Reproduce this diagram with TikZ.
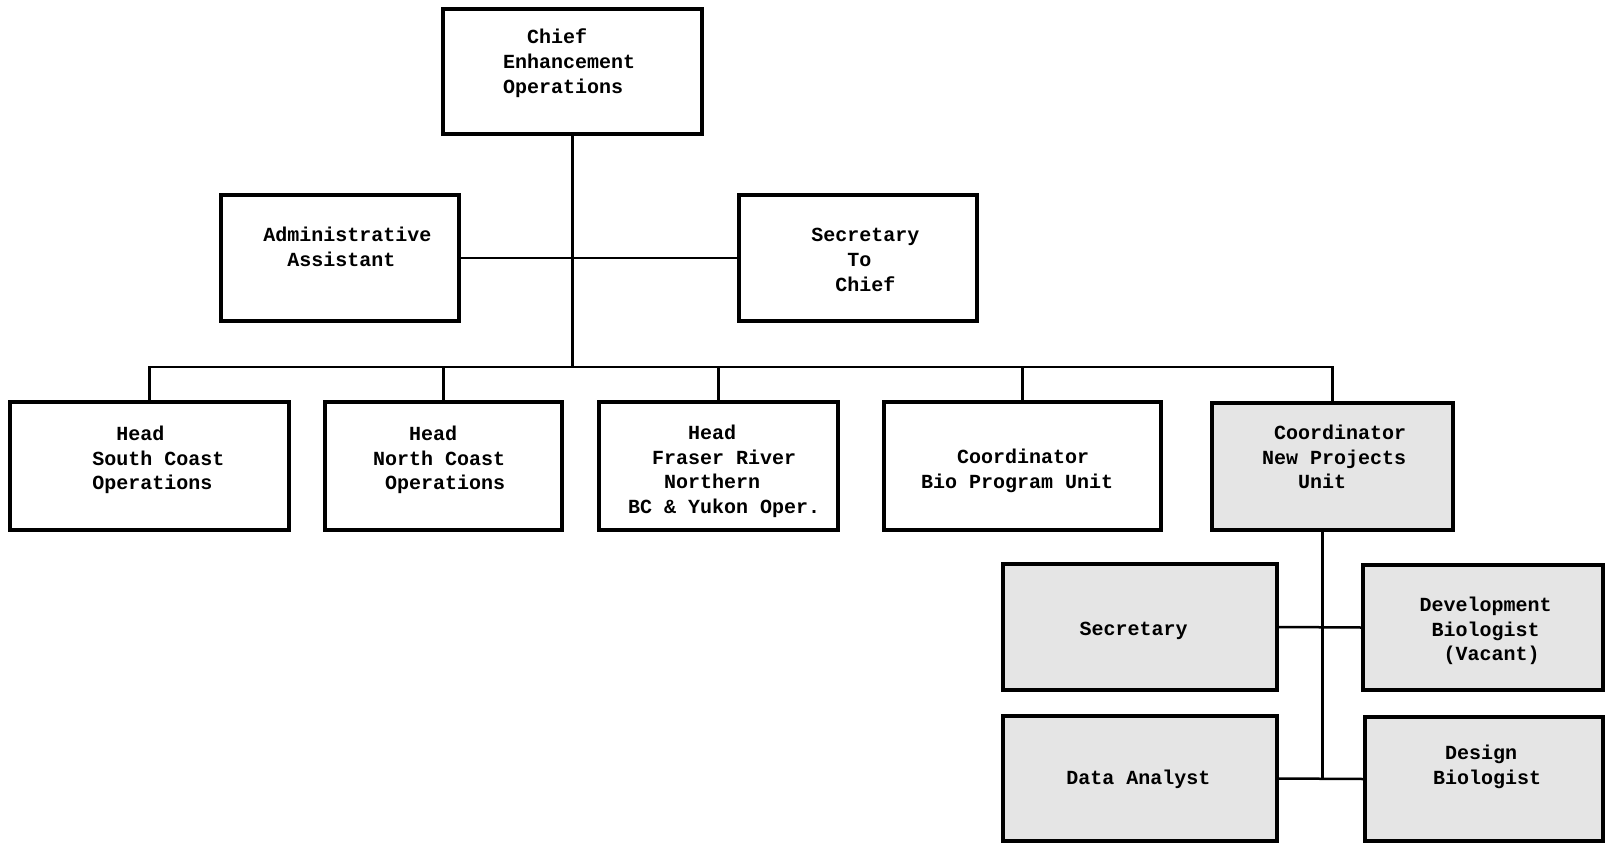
\documentclass[tikz,border=0pt]{standalone}
\usepackage{fontspec}
\newfontfamily\tw{Liberation Mono}[WordSpace={1,0,0}]
\begin{document}
\begin{tikzpicture}[x=1pt,y=-1pt,
  box/.style={draw,line width=3.5pt,minimum width=#1,minimum height=126pt,inner sep=0pt},
  shbox/.style={box=#1,fill=black!10},
  txt/.style={anchor=base west,align=left,inner sep=0pt,font=\tw\bfseries\fontsize{20pt}{24.8pt}\selectfont},
  conn/.style={line width=2.5pt}]
\useasboundingbox (0,0) rectangle (1606,843);
\begin{scope}
\clip (0,0) rectangle (1606,843);
% boxes
\node[box=259pt,minimum height=125pt] (chief) at (572.5,71.5) {};
\node[box=238pt] (admin) at (340,258) {};
\node[box=238pt] (sec) at (858,258) {};
\node[box=279pt,minimum height=128pt] (south) at (149.5,466) {};
\node[box=237pt,minimum height=128pt] (north) at (443.5,466) {};
\node[box=239pt,minimum height=128pt] (fraser) at (718.5,466) {};
\node[box=277pt,minimum height=128pt] (bio) at (1022.5,466) {};
\node[shbox=241pt,minimum height=127pt] (newp) at (1332.5,466.5) {};
\node[shbox=274pt] (secr) at (1140,627) {};
\node[shbox=240pt,minimum height=125pt] (dev) at (1483,627.5) {};
\node[shbox=274pt,minimum height=125pt] (data) at (1140,778.5) {};
\node[shbox=238pt,minimum height=124pt] (design) at (1484,779) {};
% texts (anchor = baseline of last line)
\node[txt] (chief-t) at (502.9,93.5) {\phantom{xx}Chief\\Enhancement\\Operations};
\node[txt] (admin-t) at (263.2,266.3) {Administrative\\\phantom{xx}Assistant};
\node[txt] (sec-t) at (811.2,291.1) {Secretary\\\phantom{xxx}To\\\phantom{xx}Chief};
\node[txt] (south-t) at (92.2,489.8) {\phantom{xx}Head\\South Coast\\Operations};
\node[txt] (north-t) at (372.8,489.8) {\phantom{xxx}Head\\North Coast\\\phantom{x}Operations};
\node[txt] (fraser-t) at (627.8,513.6) {\phantom{xxxxx}Head\\\phantom{xx}Fraser River\\\phantom{xxx}Northern\\BC \& Yukon Oper.};
\node[txt] (bio-t) at (920.8,488.6) {\phantom{xxx}Coordinator\\Bio Program Unit};
\node[txt] (newp-t) at (1261.8,488.8) {\phantom{x}Coordinator\\New Projects\\\phantom{xxx}Unit};
\node[txt] (secr-t) at (1079.5,635.9) {Secretary};
\node[txt] (dev-t) at (1419.5,660.9) {Development\\\phantom{x}Biologist\\\phantom{xx}(Vacant)};
\node[txt] (data-t) at (1066.2,784.4) {Data Analyst};
\node[txt] (design-t) at (1432.9,784.6) {\phantom{x}Design\\Biologist};
% connectors
\coordinate (bus) at (0,367);
\draw[conn] (chief.south) -- (chief.south |- bus);
\draw[conn] (admin.east) -- (sec.west);
\draw[conn] (south.north) |- (newp.north |- bus) -- (newp.north);
\draw[conn] (north.north) -- (north.north |- bus);
\draw[conn] (fraser.north) -- (fraser.north |- bus);
\draw[conn] (bio.north) -- (bio.north |- bus);
\coordinate (subtop) at ([xshift=-10pt]newp.south);
\draw[conn] (subtop) -- (subtop |- data.east);
\draw[conn] (secr.east) -- (dev.west);
\draw[conn] (data.east) -- (design.west);
\end{scope}
\end{tikzpicture}
\end{document}
